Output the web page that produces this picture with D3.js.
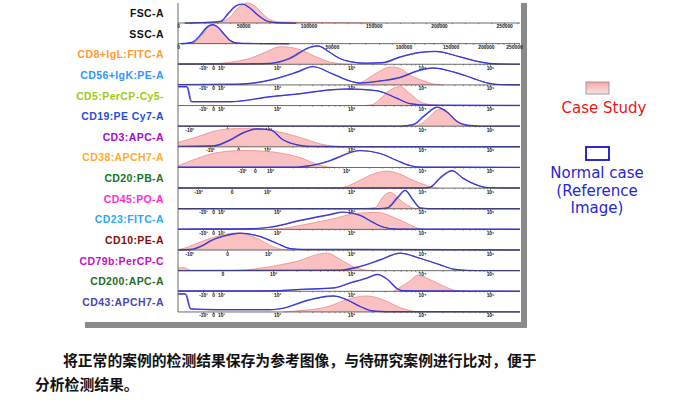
<!DOCTYPE html>
<html>
<head>
<meta charset="utf-8">
<script src="https://cdn.jsdelivr.net/npm/d3@7"></script>
<style>
  body { margin: 0; background: #fff; }
  svg { display: block; }
</style>
</head>
<body>
<svg width="690" height="412"></svg>
<script>
// parameters, one row each
const markers = ["FSC-A", "SSC-A", "CD8+IgL:FITC-A", "CD56+IgK:PE-A", "CD5:PerCP-Cy5-",
  "CD19:PE Cy7-A", "CD3:APC-A", "CD38:APCH7-A", "CD20:PB-A", "CD45:PO-A",
  "CD23:FITC-A", "CD10:PE-A", "CD79b:PerCP-C", "CD200:APC-A", "CD43:APCH7-A"];
// axis kind of each row (lin, symlog, or logicle variants)
const axisOf = ["lin", "sym", "A", "A", "A", "B", "C", "D", "E", "A", "A", "B", "F", "A", "A"];

// case study histograms: [value, relative count]; logicle rows use decades (2 = 10^2)
const caseStudy = [
  [[20000,0],[33000,0.05],[40000,0.3],[46000,0.75],[53000,1.0],[59000,0.85],[65000,0.45],[71000,0.15],[79000,0.05],[100000,0.03],[150000,0]],
  [[1500,0],[3000,0.05],[4500,0.35],[6000,0.8],[7200,0.95],[8500,0.8],[10000,0.45],[11500,0.15],[13500,0.03],[16000,0]],
  [[0.68,0],[1.0,0.02],[1.24,0.05],[1.45,0.15],[1.64,0.3],[1.84,0.6],[2.04,0.88],[2.17,0.85],[2.35,0.68],[2.51,0.4],[2.71,0.12],[2.84,0.03],[3.0,0]],
  [[3.0,0],[3.1,0.05],[3.21,0.25],[3.36,0.6],[3.57,0.9],[3.7,0.8],[3.83,0.5],[4.07,0.15],[4.19,0.03],[4.3,0]],
  [[3.2,0],[3.3,0.05],[3.4,0.3],[3.54,0.75],[3.69,0.95],[3.83,0.6],[3.97,0.2],[4.12,0.05],[4.3,0]],
  [[3.85,0],[3.95,0.05],[4.09,0.4],[4.22,0.8],[4.31,0.85],[4.42,0.55],[4.5,0.25],[4.6,0.05],[4.7,0]],
  [[0.94,0.22],[1.17,0.5],[1.36,0.77],[1.56,0.9],[1.8,0.93],[1.98,0.88],[2.19,0.7],[2.43,0.42],[2.63,0.15],[2.81,0.03],[2.93,0]],
  [[0.79,0.08],[1.04,0.45],[1.25,0.7],[1.47,0.82],[1.64,0.85],[1.91,0.82],[2.17,0.7],[2.43,0.45],[2.62,0.15],[2.75,0.03],[2.85,0]],
  [[2.8,0],[2.92,0.05],[3.13,0.4],[3.31,0.7],[3.51,0.85],[3.69,0.7],[3.87,0.4],[4.07,0.13],[4.16,0.02],[4.25,0]],
  [[2.8,0],[3.2,0.02],[3.34,0.06],[3.45,0.6],[3.55,0.82],[3.69,0.45],[3.83,0.1],[3.9,0.02],[4.0,0]],
  [[1.9,0],[2.08,0.05],[2.31,0.2],[2.72,0.5],[3.08,0.8],[3.37,0.85],[3.59,0.62],[3.79,0.3],[3.93,0.08],[4.0,0]],
  [[0.92,0.02],[1.0,0.1],[1.14,0.33],[1.34,0.63],[1.54,0.83],[1.63,0.85],[1.87,0.58],[2.06,0.17],[2.18,0.03],[2.3,0]],
  [[0.78,0.12],[0.86,0.15],[0.95,0.02],[1.5,0.01],[1.79,0.1],[2.1,0.3],[2.31,0.47],[2.56,0.8],[2.69,0.88],[2.9,0.47],[3.08,0.13],[3.23,0.02],[3.35,0]],
  [[3.6,0],[3.69,0.2],[3.83,0.52],[3.94,0.8],[4.16,0.52],[4.37,0.18],[4.51,0.03],[4.6,0]],
  [[2.1,0],[2.35,0.08],[2.58,0.18],[2.72,0.3],[2.85,0.5],[3.23,0.8],[3.51,0.52],[3.69,0.22],[3.83,0.07],[3.93,0.01],[4.0,0]]
];

// normal case (reference image) histograms
const normalCase = [
  [[5000,0],[15000,0.02],[25000,0.04],[33000,0.1],[38000,0.45],[44000,0.85],[49000,0.95],[55000,0.75],[62000,0.35],[68000,0.1],[75000,0.02],[90000,0]],
  [[500,0],[2600,0.06],[4200,0.4],[5800,0.85],[7000,0.95],[8300,0.8],[9800,0.45],[11300,0.15],[13200,0.03],[16000,0.01],[30000,0]],
  [[0.66,0.02],[1.5,0.02],[1.91,0.05],[2.17,0.3],[2.44,0.85],[2.55,0.92],[2.71,0.6],[2.84,0.3],[3.01,0.12],[3.2,0.06],[3.44,0.08],[3.69,0.37],[3.97,0.6],[4.2,0.65],[4.56,0.37],[4.85,0.12],[5.1,0.02],[5.44,0.01]],
  [[0.66,0.02],[1.47,0.04],[1.91,0.25],[2.27,0.65],[2.48,0.92],[2.75,0.55],[3.01,0.17],[3.11,0.1],[3.4,0.2],[3.69,0.38],[3.93,0.7],[4.16,0.85],[4.46,0.65],[4.75,0.33],[4.96,0.1],[5.15,0.02],[5.44,0.01]],
  [[0.66,0.95],[0.78,0.95],[0.84,0.2],[1.37,0.2],[1.91,0.45],[2.31,0.6],[2.75,0.8],[2.97,0.83],[3.36,0.75],[3.64,0.37],[3.83,0.1],[4.12,0.02],[5.44,0.01]],
  [[0.9,0.01],[3.7,0.01],[3.87,0.08],[4.04,0.55],[4.22,0.95],[4.37,0.7],[4.51,0.25],[4.66,0.05],[4.85,0.01],[5.44,0.01]],
  [[0.94,0.03],[1.36,0.05],[1.56,0.35],[1.71,0.7],[1.88,0.9],[2.04,0.85],[2.19,0.35],[2.36,0.1],[2.55,0.02],[3.0,0.01],[5.44,0.01]],
  [[0.79,0.02],[2.36,0.02],[2.53,0.1],[2.79,0.35],[2.92,0.55],[3.05,0.75],[3.18,0.85],[3.45,0.7],[3.67,0.35],[3.84,0.1],[4.01,0.02],[5.44,0.01]],
  [[0.9,0.01],[4.05,0.01],[4.12,0.05],[4.26,0.5],[4.44,0.87],[4.6,0.5],[4.81,0.15],[4.96,0.03],[5.25,0.01],[5.44,0.01]],
  [[0.66,0.01],[3.4,0.01],[3.51,0.05],[3.65,0.55],[3.76,0.92],[3.87,0.45],[3.97,0.05],[4.1,0.01],[5.44,0.01]],
  [[0.66,0.02],[1.54,0.03],[1.91,0.12],[2.31,0.45],[2.72,0.75],[2.89,0.87],[3.13,0.7],[3.31,0.35],[3.45,0.12],[3.65,0.02],[5.44,0.01]],
  [[0.92,0.01],[1.06,0.03],[1.22,0.25],[1.3,0.45],[1.51,0.75],[1.66,0.85],[1.9,0.68],[2.11,0.33],[2.27,0.07],[2.42,0.03],[3.2,0.03],[5.44,0.01]],
  [[0.78,0.01],[2.86,0.03],[3.13,0.22],[3.41,0.55],[3.69,0.88],[3.97,0.62],[4.26,0.3],[4.46,0.08],[4.66,0.02],[4.96,0.01],[5.44,0.01]],
  [[0.66,0.02],[2.0,0.03],[2.31,0.1],[2.76,0.17],[2.99,0.43],[3.23,0.68],[3.37,0.85],[3.51,0.6],[3.65,0.13],[3.72,0.03],[4.0,0.02],[5.44,0.01]],
  [[0.66,0.9],[0.76,0.9],[0.83,0.15],[1.2,0.12],[1.9,0.12],[2.14,0.25],[2.35,0.52],[2.58,0.73],[2.76,0.8],[2.95,0.6],[3.13,0.27],[3.31,0.05],[3.5,0.02],[5.44,0.01]]
];

// tick labels
const linTicks = [0, 50000, 100000, 150000, 200000, 250000];
const decadeTicks = [[2, "10²"], [3, "10³"], [4, "10⁴"], [5, "10⁵"]];
const lowTicks = {
  A: [[1.0, "-10¹"], [1.135, "0"], [1.243, "10¹"]],
  B: [[1.05, "-10²"], [1.506, "0"]],
  C: [[1.32, "-10²"], [1.655, "0"]],
  D: [[1.63, "-10²"], [1.8, "0"]],
  E: [[1.18, "-10²"], [1.58, "0"]],
  F: [[1.35, "0"]]
};
const legendCase = ["Case Study"];
const legendNormal = ["Normal case", "(Reference", "Image)"];
const captionLines = ["将正常的案例的检测结果保存为参考图像，与待研究案例进行比对，便于", "分析检测结果。"];

// layout and style
const labelColors = ["#111", "#111", "#ff9a2e", "#2a98ff", "#9ccc10", "#1f4fd8", "#a00ccc", "#ffaa33",
  "#17761a", "#ff2ad0", "#2aa8f5", "#8e0a0a", "#c80ac8", "#1f6e1f", "#4646b8"];
const X0 = 178, X1 = 520, rowTop = 23, rowStep = 20.64, rowH = 20;
const logicleRange = { A: [277, 351], B: [268, 351], C: [267, 351], D: [270, 346], E: [267, 351], F: [273, 351] };

const svg = d3.select("svg");

function xScale(kind) {
  if (kind === "lin") return d3.scaleLinear().domain([0, 262144]).range([X0, X1]);
  if (kind === "sym") return d3.scaleSymlog().constant(25000).domain([0, 262144]).range([X0, X1]);
  const r = logicleRange[kind];
  return d3.scaleLinear().domain([2, 3, 4, 5]).range([r[0], r[1], 422, 490]);
}

const defs = svg.append("defs");
defs.append("clipPath").attr("id", "plot")
  .append("rect").attr("x", X0).attr("y", 0).attr("width", X1 - X0).attr("height", 330);
const grad = defs.append("linearGradient").attr("id", "pink")
  .attr("x1", 0).attr("y1", 0).attr("x2", 0).attr("y2", 1);
grad.append("stop").attr("offset", "0%").attr("stop-color", "#f5a6a6");
grad.append("stop").attr("offset", "100%").attr("stop-color", "#fde4e4");

// drop shadow of the pasted figure
svg.append("rect").attr("x", 521).attr("y", 3).attr("width", 6).attr("height", 325).attr("fill", "#8a8a8a");
svg.append("rect").attr("x", 85).attr("y", 322).attr("width", 442).attr("height", 6).attr("fill", "#8a8a8a");

const labelLayer = svg.append("g");

markers.forEach((name, i) => {
  const base = rowTop + i * rowStep;
  const kind = axisOf[i];
  const x = xScale(kind);
  const y = d3.scaleLinear().domain([0, 1]).range([base, base - rowH]);

  const area = d3.area().curve(d3.curveMonotoneX).x(d => x(d[0])).y0(base).y1(d => y(d[1]));
  const line = d3.line().curve(d3.curveMonotoneX).x(d => x(d[0])).y(d => y(d[1]));

  const g = svg.append("g").attr("clip-path", "url(#plot)");
  g.append("path").datum(caseStudy[i]).attr("d", area).attr("fill", "#f9c1c1");
  g.append("path").datum(caseStudy[i]).attr("d", line)
    .attr("fill", "none").attr("stroke", "#f08a8a").attr("stroke-width", 0.8);
  g.append("path").datum(normalCase[i]).attr("d", line).attr("transform", "translate(0.8,0.3)")
    .attr("fill", "none").attr("stroke", "#555").attr("stroke-width", 0.8);
  g.append("path").datum(normalCase[i]).attr("d", line)
    .attr("fill", "none").attr("stroke", "#3535ea").attr("stroke-width", 1.2);

  // axis line
  svg.append("line").attr("x1", X0).attr("x2", X1).attr("y1", base).attr("y2", base)
    .attr("stroke", "#444").attr("stroke-width", 0.8);

  // ticks
  let major, labels, minor;
  if (kind === "lin" || kind === "sym") {
    major = linTicks;
    labels = linTicks.map(String);
    minor = d3.range(10000, 262144, 10000);
  } else {
    const t = lowTicks[kind].concat(decadeTicks);
    major = t.map(d => d[0]);
    labels = t.map(d => d[1]);
    minor = [];
    [2, 3, 4].forEach(k => d3.range(2, 10).forEach(m => minor.push(k + Math.log10(m))));
  }
  const ax = labelLayer.append("g").attr("transform", `translate(0,${base})`);
  ax.call(d3.axisBottom(x).tickValues(minor).tickFormat("").tickSize(1.2).tickSizeOuter(0));
  const axMaj = labelLayer.append("g").attr("transform", `translate(0,${base})`);
  axMaj.call(d3.axisBottom(x).tickValues(major).tickFormat((d, j) => labels[j])
    .tickSize(2).tickPadding(0).tickSizeOuter(0));
  [ax, axMaj].forEach(a => {
    a.select(".domain").remove();
    a.selectAll("line").attr("stroke", "#444").attr("stroke-width", 0.6);
  });
  axMaj.selectAll("text")
    .attr("font-family", "Liberation Sans, DejaVu Sans, sans-serif")
    .attr("font-size", 4.9).attr("font-weight", "bold").attr("fill", "#111");

  // row label
  labelLayer.append("text")
    .attr("x", 164).attr("y", base - 6)
    .attr("text-anchor", "end")
    .attr("font-family", "Liberation Sans, Arial, sans-serif")
    .attr("font-weight", "bold").attr("font-size", 10.5).attr("letter-spacing", 0.4)
    .attr("fill", labelColors[i])
    .text(name);
});

// left frame line
svg.append("line").attr("x1", X0).attr("x2", X0).attr("y1", 3).attr("y2", rowTop + 14 * rowStep)
  .attr("stroke", "#444").attr("stroke-width", 0.8);

// legend
const lg = svg.append("g").attr("font-family", "DejaVu Sans, sans-serif").attr("font-size", 15);
lg.append("rect").attr("x", 586).attr("y", 82).attr("width", 23).attr("height", 12)
  .attr("fill", "url(#pink)").attr("stroke", "#888").attr("stroke-width", 0.8);
lg.selectAll(".lc").data(legendCase).enter().append("text")
  .attr("x", 604).attr("y", 113).attr("text-anchor", "middle").attr("fill", "#ee1515").text(d => d);
lg.append("rect").attr("x", 586).attr("y", 147).attr("width", 23).attr("height", 13)
  .attr("fill", "#fff").attr("stroke", "#1414c8").attr("stroke-width", 1.8);
lg.selectAll(".ln").data(legendNormal).enter().append("text")
  .attr("x", 597).attr("y", (d, j) => [178, 196, 213][j]).attr("text-anchor", "middle")
  .attr("fill", "#2626d2").text(d => d);

// caption below the figure
svg.selectAll(".cap").data(captionLines).enter().append("text")
  .attr("x", (d, j) => j === 0 ? 63 : 35)
  .attr("y", (d, j) => j === 0 ? 366 : 390)
  .attr("font-family", "Noto Sans CJK SC, sans-serif")
  .attr("font-weight", "bold").attr("font-size", 14.8).attr("fill", "#111")
  .text(d => d);
</script>
</body>
</html>
